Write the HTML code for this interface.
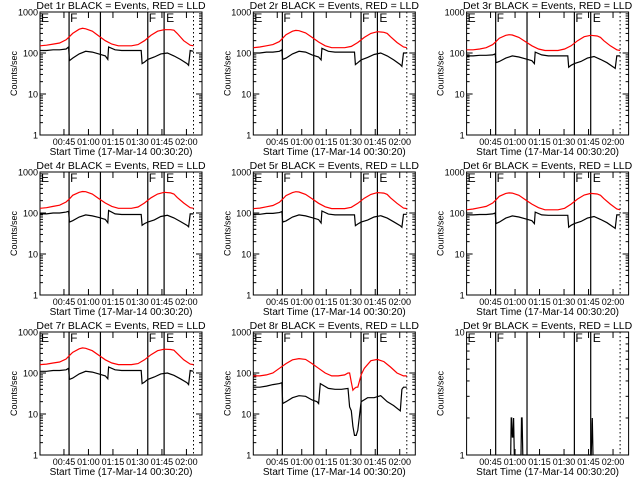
<!DOCTYPE html>
<html><head><meta charset="utf-8"><style>
body{margin:0;background:#fff;}
svg{display:block;font-family:"Liberation Sans",sans-serif;}
</style></head><body>
<svg id="c" width="640" height="480" viewBox="0 0 640 480"></svg>
<script>
const titles=["Det 1r BLACK = Events, RED = LLD","Det 2r BLACK = Events, RED = LLD","Det 3r BLACK = Events, RED = LLD","Det 4r BLACK = Events, RED = LLD","Det 5r BLACK = Events, RED = LLD","Det 6r BLACK = Events, RED = LLD","Det 7r BLACK = Events, RED = LLD","Det 8r BLACK = Events, RED = LLD","Det 9r BLACK = Events, RED = LLD"];
const xTickLabels=["00:45","01:00","01:15","01:30","01:45","02:00"];
const xTickMinutes=[14.67,29.67,44.67,59.67,74.67,89.67];
const solidLines=[17.8,37,66,76];
const dottedLine=94;
const tRed=[0,4,8,12,16,18,20,24,26,28,32,36,40,44,48,52,56,60,64,68,72,76,80,82,84,88,92,94];
const tBlack=[0,4,8,12,16,17.5,18,20,24,28,32,36,40,41.5,42,46,50,54,58,62,62.5,64,66,70,74,78,82,86,90,91,92,94];
const r1=[150,155,165,175,210,250,300,380,400,390,340,260,200,165,150,150,150,160,200,270,340,370,370,360,300,200,155,150];
const r2=[135,140,150,160,190,230,280,340,355,350,310,240,185,150,135,135,135,145,180,240,300,330,320,300,250,180,140,135];
const r3=[120,120,125,135,160,190,230,270,280,275,240,190,150,125,115,115,115,125,150,200,250,270,260,240,200,150,120,115];
const r4=[130,135,145,155,185,220,270,320,335,330,290,225,175,145,130,130,130,140,175,235,290,320,310,290,240,175,135,130];
const r5=[128,132,142,152,182,218,265,315,330,325,285,222,172,142,128,128,128,138,172,230,285,315,305,285,235,172,132,128];
const r6=[120,125,135,145,175,210,255,300,310,305,270,210,165,135,120,120,120,130,165,220,275,300,290,270,225,165,125,120];
const r7=[160,165,175,185,220,265,320,390,410,400,350,270,210,175,160,160,160,170,210,280,350,380,375,360,300,210,165,160];
const b1=[115,115,120,120,125,140,65,75,95,110,105,95,85,70,140,120,115,115,115,115,55,60,70,80,95,100,85,70,55,50,115,110];
const b2=[100,100,105,105,110,120,70,75,95,110,105,90,80,68,130,110,105,105,105,105,52,58,68,78,92,100,85,68,52,47,100,100];
const b3=[85,85,88,88,90,95,58,62,75,85,80,72,65,55,105,90,85,85,85,85,45,50,55,62,75,82,70,58,45,42,85,85];
const b4=[95,95,100,100,105,110,60,65,80,90,85,78,70,58,115,95,92,92,92,92,50,55,60,68,82,88,76,62,50,46,95,95];
const b5=[93,93,98,98,102,108,60,64,80,90,85,77,69,57,112,94,90,90,90,90,49,54,60,67,80,86,75,61,49,45,93,93];
const b6=[90,90,92,92,95,100,55,60,75,85,80,72,65,55,105,90,88,88,88,88,45,50,55,62,75,82,70,58,45,42,90,90];
const b7=[110,110,115,115,120,130,70,75,95,110,105,95,85,72,140,120,115,115,115,115,55,60,70,80,95,100,88,72,58,52,115,110];
const t8Red=[0,4,8,12,16,20,24,28,32,36,40,44,48,52,56,58,59,60,61,62,63,64,66,68,72,76,80,84,88,92,94];
const r8=[85,85,90,100,130,170,210,225,215,170,130,100,85,85,90,100,100,60,38,42,45,45,90,130,200,215,190,140,100,85,85];
const t8Black=[0,4,8,12,16,17.5,18,20,24,28,32,36,39,40,41,46,50,54,58,59,60,61,62,63,64,66,70,74,78,82,86,90,91,92,94];
const b8=[45,45,48,52,55,58,18,20,25,28,27,22,20,18,55,42,40,40,42,15,12,5,3,3,4,20,25,25,28,20,16,12,40,45,45];
const t9Black=[27,27.3,27.6,28,28.4,28.8,29.2,33.3,33.6,34,34.4,76.3,76.6,77,77.4];
const b9=[1,2,2,1.4,1.4,2,1,1,2,2,1,1,1.4,2,1];
const yTickLabels3=["1","10","100","1000"];
const yTickLabels1=["1","10"];

const panels=[
 {tr:tRed,r:r1,tb:tBlack,b:b1,dec:3},{tr:tRed,r:r2,tb:tBlack,b:b2,dec:3},{tr:tRed,r:r3,tb:tBlack,b:b3,dec:3},
 {tr:tRed,r:r4,tb:tBlack,b:b4,dec:3},{tr:tRed,r:r5,tb:tBlack,b:b5,dec:3},{tr:tRed,r:r6,tb:tBlack,b:b6,dec:3},
 {tr:tRed,r:r7,tb:tBlack,b:b7,dec:3},{tr:t8Red,r:r8,tb:t8Black,b:b8,dec:3},{tr:null,r:null,tb:t9Black,b:b9,dec:1}];

const svg=document.getElementById('c');
const NS='http://www.w3.org/2000/svg';
function mk(tag,attrs,parent){const e=document.createElementNS(NS,tag);for(const k in attrs)e.setAttribute(k,attrs[k]);parent.appendChild(e);return e;}
const BL=40,BR=202,BT=12,BB=135,PXMIN=1.633;

panels.forEach((p,i)=>{
 const ox=(i%3)*213.3, oy=Math.floor(i/3)*160;
 const g=mk('g',{transform:`translate(${ox},${oy})`},svg);
 
 
 const x=t=>BL+t*PXMIN;
 const y=v=>BB-(Math.log10(Math.max(v,1))/p.dec)*(BB-BT);
 const t=mk('text',{x:(BL+BR)/2,y:9,'text-anchor':'middle','font-size':'10.5'},g);
 t.textContent=titles[i];
 
 
 const box=mk('rect',{x:BL,y:BT,width:BR-BL,height:BB-BT,fill:'none',stroke:'#000','stroke-width':1},g);
 
 
 const labs=p.dec===3?yTickLabels3:yTickLabels1;
 labs.forEach((lab,k)=>{
  const yy=y(Math.pow(10,k));
  mk('line',{x1:BL,x2:BL+6,y1:yy,y2:yy,stroke:'#000'},g);
  mk('line',{x1:BR,x2:BR-6,y1:yy,y2:yy,stroke:'#000'},g);
  const tl=mk('text',{x:BL-2,y:yy+3.5,'text-anchor':'end','font-size':'9'},g);
  tl.textContent=lab;
  
  
  if(k<p.dec){for(let m=2;m<10;m++){const ym=y(m*Math.pow(10,k));
   mk('line',{x1:BL,x2:BL+3,y1:ym,y2:ym,stroke:'#000'},g);
   mk('line',{x1:BR,x2:BR-3,y1:ym,y2:ym,stroke:'#000'},g);}}
 });
 xTickMinutes.forEach((tm,k)=>{
  const xx=x(tm);
  mk('line',{x1:xx,x2:xx,y1:BB,y2:BB-6,stroke:'#000'},g);
  mk('line',{x1:xx,x2:xx,y1:BT,y2:BT+6,stroke:'#000'},g);
  const tl=mk('text',{x:xx,y:BB+10,'text-anchor':'middle','font-size':'9'},g);
  tl.textContent=xTickLabels[k];
  
  
 });
 const xt=mk('text',{x:(BL+BR)/2,y:BB+20,'text-anchor':'middle','font-size':'10'},g);
 xt.textContent='Start Time (17-Mar-14 00:30:20)';
 
 
 const yt=mk('text',{x:0,y:0,'text-anchor':'middle','font-size':'9',transform:`translate(17,${(BT+BB)/2}) rotate(-90)`},g);
 yt.textContent='Counts/sec';
 
 
 solidLines.forEach(tm=>{const l=mk('line',{x1:x(tm),x2:x(tm),y1:BT,y2:BB,stroke:'#000','stroke-width':1.2},g);
  
  });
 const dl=mk('line',{x1:x(dottedLine),x2:x(dottedLine),y1:BT,y2:BB,stroke:'#000','stroke-dasharray':'1.5,2.5'},g);
 
 
 const letters=[["E",BL+1],["F",x(solidLines[0])+1],["F",x(solidLines[2])+1],["E",x(solidLines[3])+2]];
 letters.forEach(([s,xx])=>{const e=mk('text',{x:xx,y:BT+10,'font-size':'12'},g);e.textContent=s;
  
  });
 function series(ts,vs,col,name){
  let d='';ts.forEach((tm,k)=>{d+=(k?'L':'M')+x(tm).toFixed(1)+' '+y(vs[k]).toFixed(1);});
  const pth=mk('path',{d:d,fill:'none',stroke:col,'stroke-width':1.2},g);
  
  
 }
 if(p.r)series(p.tr,p.r,'#ff0000','lld-series');
 series(p.tb,p.b,'#000','events-series');
});
</script>
</body></html>
